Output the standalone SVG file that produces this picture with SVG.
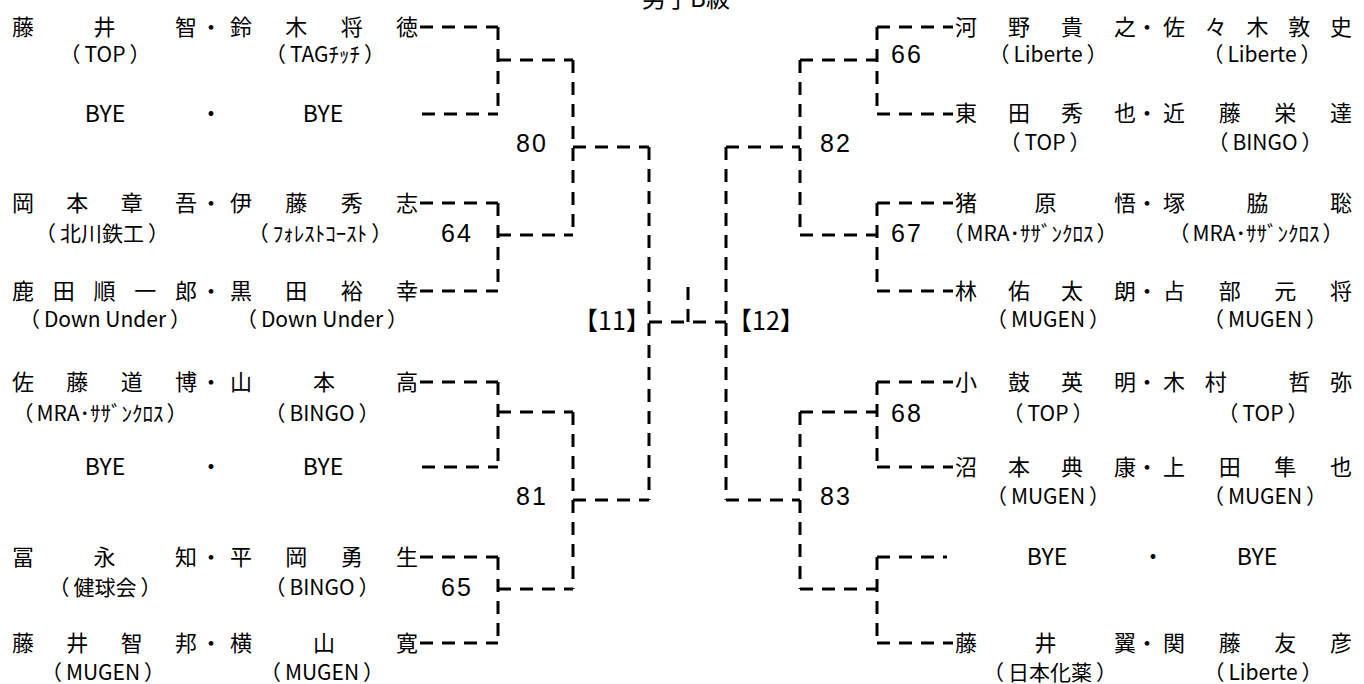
<svg xmlns="http://www.w3.org/2000/svg" width="1364" height="684" viewBox="0 0 1364 684">
<style>
text{font-family:"Noto Sans CJK JP","Liberation Sans",sans-serif;fill:#000}
.nm{font-size:22px}
.cl{font-size:21px;text-anchor:middle}
.by{font-size:23px;text-anchor:middle}
.num{font-family:"Liberation Sans","Noto Sans CJK JP",sans-serif;font-size:25px;letter-spacing:2px}
.br{font-size:25px}
.ttl{font-size:24px;text-anchor:middle}
.ln{fill:none;stroke:#000;stroke-width:3;stroke-dasharray:13 9}
</style>
<rect width="1364" height="684" fill="#fff"/>
<text class="ttl" x="686" y="7">男子B級</text>

<g id="connectors">
<path class="ln" d="M420 27H498M422 114H498M498 27V114M498 60H573"/>
<path class="ln" d="M420 203H498M420 291H498M498 203V291M498 235H573"/>
<path class="ln" d="M573 60V235M573 147H649"/>
<path class="ln" d="M420 382H498M422 467H498M498 382V467M498 412H573"/>
<path class="ln" d="M420 557H498M420 643H498M498 557V643M498 589H573"/>
<path class="ln" d="M573 412V589M573 500H649"/>
<path class="ln" d="M649 147V500M649 322H726M688 287V322M726 147V500"/>
<path class="ln" d="M726 147H800M726 500H800M800 60V235M800 412V589"/>
<path class="ln" d="M800 60H877M877 27V114M877 27H953M877 114H953"/>
<path class="ln" d="M800 235H877M877 203V291M877 203H953M877 291H953"/>
<path class="ln" d="M800 412H877M877 382V467M877 382H953M877 467H953"/>
<path class="ln" d="M800 589H877M877 557V643M877 557H947M877 643H953"/>
</g>

<g id="labels">
<text class="num" x="516" y="152">80</text>
<text class="num" x="516" y="505">81</text>
<text class="num" x="820" y="152">82</text>
<text class="num" x="820" y="505">83</text>
<text class="num" x="441" y="242">64</text>
<text class="num" x="441" y="596">65</text>
<text class="num" x="891" y="63">66</text>
<text class="num" x="891" y="242">67</text>
<text class="num" x="891" y="422">68</text>
<text class="br" x="573" y="330">【11】</text>
<text class="br" x="727" y="330">【12】</text>
</g>

<g id="L1">
<text class="nm" x="12 93.5 175 200 230 285.3 340.7 396" y="35">藤井智・鈴木将徳</text>
<text class="cl" x="105" y="62">（<tspan dx="4">TOP</tspan><tspan dx="4">）</tspan></text>
<text class="cl" x="325" y="62">（<tspan dx="4">TAGﾁｯﾁ</tspan><tspan dx="4">）</tspan></text>
</g>
<g id="L1b">
<text class="by" x="105" y="122">BYE</text>
<text class="by" x="211" y="122">・</text>
<text class="by" x="323" y="122">BYE</text>
</g>
<g id="L2">
<text class="nm" x="12 66.3 120.7 175 200 230 285.3 340.7 396" y="211">岡本章吾・伊藤秀志</text>
<text class="cl" x="102" y="241">（<tspan dx="4">北川鉄工</tspan><tspan dx="4">）</tspan></text>
<text class="cl" x="320" y="241">（<tspan dx="4">ﾌｫﾚｽﾄｺｰｽﾄ</tspan><tspan dx="4">）</tspan></text>
</g>
<g id="L3">
<text class="nm" x="12 52.75 93.5 134.25 175 200 230 285.3 340.7 396" y="299">鹿田順一郎・黒田裕幸</text>
<text class="cl" x="105" y="327">（<tspan dx="4">Down Under</tspan><tspan dx="4">）</tspan></text>
<text class="cl" x="322" y="327">（<tspan dx="4">Down Under</tspan><tspan dx="4">）</tspan></text>
</g>
<g id="L4">
<text class="nm" x="12 66.3 120.7 175 200 230 313 396" y="390">佐藤道博・山本高</text>
<text class="cl" x="100" y="421">（<tspan dx="3">MRA･ｻｻﾞﾝｸﾛｽ</tspan><tspan dx="3">）</tspan></text>
<text class="cl" x="322" y="421">（<tspan dx="4">BINGO</tspan><tspan dx="4">）</tspan></text>
</g>
<g id="L4b">
<text class="by" x="105" y="475">BYE</text>
<text class="by" x="211" y="475">・</text>
<text class="by" x="323" y="475">BYE</text>
</g>
<g id="L5">
<text class="nm" x="12 93.5 175 200 230 285.3 340.7 396" y="565">冨永知・平岡勇生</text>
<text class="cl" x="105" y="595">（<tspan dx="4">健球会</tspan><tspan dx="4">）</tspan></text>
<text class="cl" x="322" y="595">（<tspan dx="4">BINGO</tspan><tspan dx="4">）</tspan></text>
</g>
<g id="L6">
<text class="nm" x="12 66.3 120.7 175 200 230 313 396" y="651">藤井智邦・横山寛</text>
<text class="cl" x="103" y="680">（<tspan dx="4">MUGEN</tspan><tspan dx="4">）</tspan></text>
<text class="cl" x="322" y="680">（<tspan dx="4">MUGEN</tspan><tspan dx="4">）</tspan></text>
</g>

<g id="R1">
<text class="nm" x="955 1008 1061 1114 1136 1163 1204.75 1246.5 1288.25 1330" y="35">河野貴之・佐々木敦史</text>
<text class="cl" x="1048" y="62">（<tspan dx="4">Liberte</tspan><tspan dx="4">）</tspan></text>
<text class="cl" x="1262" y="62">（<tspan dx="4">Liberte</tspan><tspan dx="4">）</tspan></text>
</g>
<g id="R2">
<text class="nm" x="955 1008 1061 1114 1136 1163 1218.7 1274.3 1330" y="121">東田秀也・近藤栄達</text>
<text class="cl" x="1045" y="150">（<tspan dx="4">TOP</tspan><tspan dx="4">）</tspan></text>
<text class="cl" x="1265" y="150">（<tspan dx="4">BINGO</tspan><tspan dx="4">）</tspan></text>
</g>
<g id="R3">
<text class="nm" x="955 1034.5 1114 1136 1163 1246.5 1330" y="211">猪原悟・塚脇聡</text>
<text class="cl" x="1030" y="241">（<tspan dx="3">MRA･ｻｻﾞﾝｸﾛｽ</tspan><tspan dx="3">）</tspan></text>
<text class="cl" x="1256" y="241">（<tspan dx="3">MRA･ｻｻﾞﾝｸﾛｽ</tspan><tspan dx="3">）</tspan></text>
</g>
<g id="R4">
<text class="nm" x="955 1008 1061 1114 1136 1163 1218.7 1274.3 1330" y="299">林佑太朗・占部元将</text>
<text class="cl" x="1048" y="327">（<tspan dx="4">MUGEN</tspan><tspan dx="4">）</tspan></text>
<text class="cl" x="1265" y="327">（<tspan dx="4">MUGEN</tspan><tspan dx="4">）</tspan></text>
</g>
<g id="R5">
<text class="nm" x="955 1008 1061 1114 1136 1163 1204.75 1288.25 1330" y="390">小鼓英明・木村哲弥</text>
<text class="cl" x="1048" y="421">（<tspan dx="4">TOP</tspan><tspan dx="4">）</tspan></text>
<text class="cl" x="1263" y="421">（<tspan dx="4">TOP</tspan><tspan dx="4">）</tspan></text>
</g>
<g id="R6">
<text class="nm" x="955 1008 1061 1114 1136 1163 1218.7 1274.3 1330" y="475">沼本典康・上田隼也</text>
<text class="cl" x="1048" y="504">（<tspan dx="4">MUGEN</tspan><tspan dx="4">）</tspan></text>
<text class="cl" x="1265" y="504">（<tspan dx="4">MUGEN</tspan><tspan dx="4">）</tspan></text>
</g>
<g id="R7">
<text class="by" x="1047" y="565">BYE</text>
<text class="by" x="1153" y="565">・</text>
<text class="by" x="1257" y="565">BYE</text>
</g>
<g id="R8">
<text class="nm" x="955 1034.5 1114 1136 1163 1218.7 1274.3 1330" y="651">藤井翼・関藤友彦</text>
<text class="cl" x="1050" y="680">（<tspan dx="4">日本化薬</tspan><tspan dx="4">）</tspan></text>
<text class="cl" x="1263" y="680">（<tspan dx="4">Liberte</tspan><tspan dx="4">）</tspan></text>
</g>
</svg>
